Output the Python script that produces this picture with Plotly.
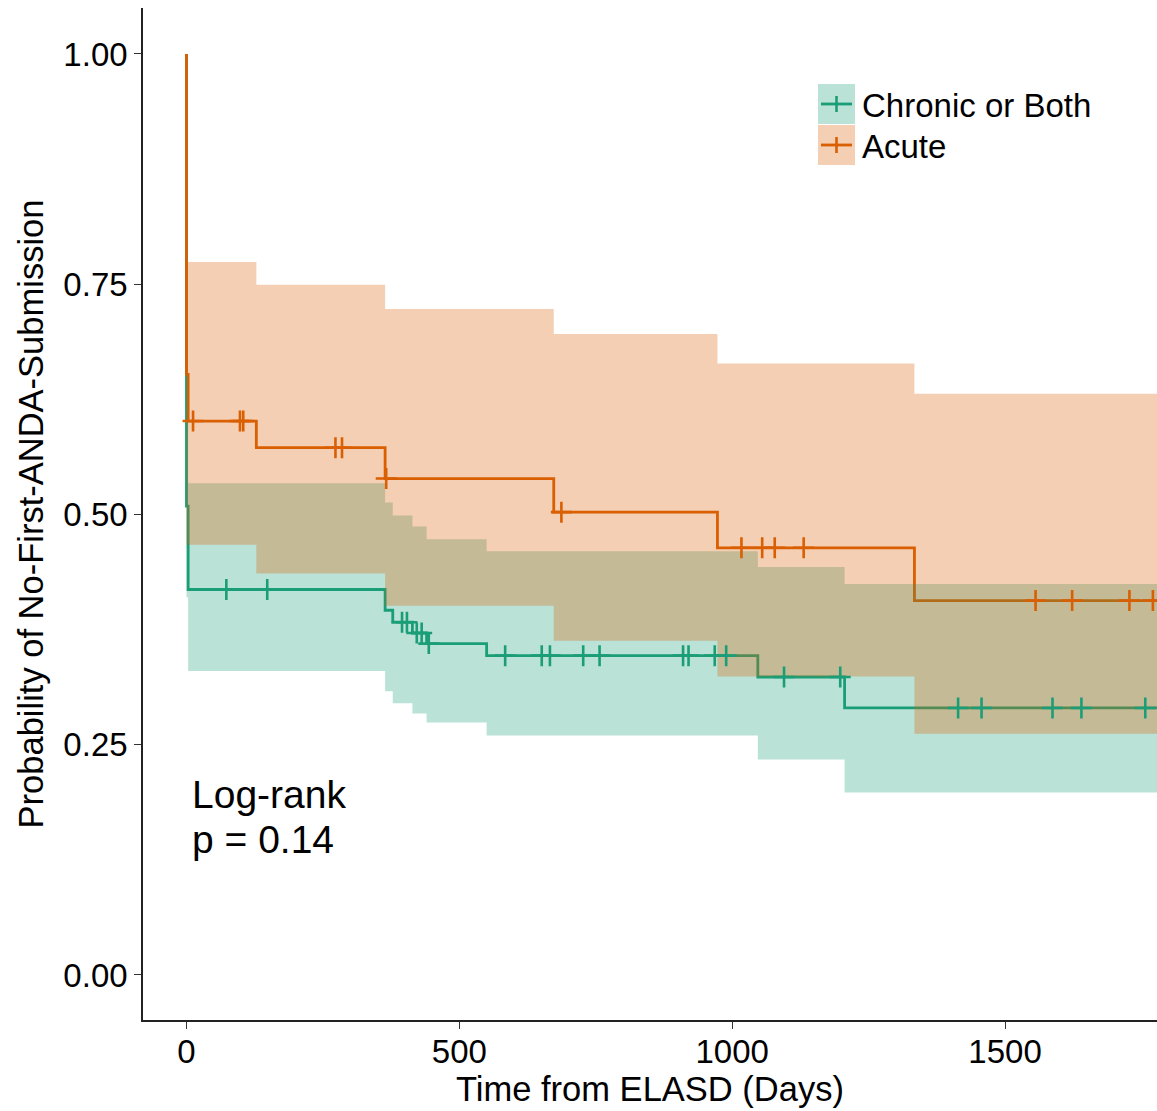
import plotly.graph_objects as go

# ---------------- data ----------------
series_names = ["Chronic or Both", "Acute"]

# Kaplan-Meier step estimates (time in days, survival probability)
chronic_time = [0, 0, 3, 364, 378, 414, 440, 550, 1047, 1206, 1800]
chronic_surv = [1.0, 0.509, 0.4185, 0.396, 0.383, 0.3713, 0.3598, 0.3467, 0.3235, 0.2899, 0.2899]

acute_time = [0, 0, 3, 128, 364, 673, 973, 1334, 1800]
acute_surv = [1.0, 0.652, 0.6014, 0.5725, 0.539, 0.5025, 0.4638, 0.4065, 0.4065]

# confidence bands
chronic_band_time = [0, 3, 364, 378, 414, 440, 550, 1047, 1206, 1800]
chronic_upper = [0.652, 0.534, 0.513, 0.499, 0.487, 0.473, 0.460, 0.443, 0.4245, 0.4245]
chronic_lower = [0.41, 0.330, 0.308, 0.295, 0.284, 0.274, 0.260, 0.234, 0.198, 0.198]

acute_band_time = [0, 3, 128, 364, 673, 973, 1334, 1800]
acute_upper = [0.774, 0.774, 0.7495, 0.723, 0.696, 0.664, 0.631, 0.631]
acute_lower = [0.467, 0.467, 0.436, 0.401, 0.363, 0.324, 0.262, 0.262]

# censoring times
chronic_censor = [73, 148, 395, 404, 422, 431, 444, 584, 651, 666, 727, 757,
                  910, 920, 968, 989, 1095, 1198, 1414, 1457, 1587, 1640, 1757]
acute_censor = [12, 98, 104, 273, 285, 366, 687, 1017, 1055, 1078, 1131,
                1556, 1623, 1728, 1771]

x_ticks = [0, 500, 1000, 1500]
y_ticks = [0, 0.25, 0.5, 0.75, 1.0]
y_tick_text = ["0.00", "0.25", "0.50", "0.75", "1.00"]

annotation_lines = ["Log-rank", "p = 0.14"]

GREEN = "#1B9E77"
ORANGE = "#D95F02"
GREEN_FILL = "rgba(27,158,119,0.3)"
ORANGE_FILL = "rgba(217,95,2,0.3)"
FONT = "Liberation Sans, Arial, sans-serif"


def step_value(times, values, t):
    v = values[0]
    for ti, vi in zip(times, values):
        if ti <= t:
            v = vi
    return v


fig = go.Figure()

# survival curves (drawn first, bands overlay them like ggplot)
fig.add_trace(go.Scatter(x=chronic_time, y=chronic_surv, mode="lines",
                         line=dict(color=GREEN, width=2.8, shape="hv"),
                         showlegend=False, hoverinfo="skip"))
fig.add_trace(go.Scatter(x=acute_time, y=acute_surv, mode="lines",
                         line=dict(color=ORANGE, width=2.8, shape="hv"),
                         showlegend=False, hoverinfo="skip"))

# confidence bands
fig.add_trace(go.Scatter(x=chronic_band_time, y=chronic_lower, mode="lines",
                         line=dict(width=0, shape="hv"), showlegend=False,
                         hoverinfo="skip"))
fig.add_trace(go.Scatter(x=chronic_band_time, y=chronic_upper, mode="lines",
                         line=dict(width=0, shape="hv"), fill="tonexty",
                         fillcolor=GREEN_FILL, showlegend=False, hoverinfo="skip"))
fig.add_trace(go.Scatter(x=acute_band_time, y=acute_lower, mode="lines",
                         line=dict(width=0, shape="hv"), showlegend=False,
                         hoverinfo="skip"))
fig.add_trace(go.Scatter(x=acute_band_time, y=acute_upper, mode="lines",
                         line=dict(width=0, shape="hv"), fill="tonexty",
                         fillcolor=ORANGE_FILL, showlegend=False, hoverinfo="skip"))

# censor marks
fig.add_trace(go.Scatter(
    x=chronic_censor,
    y=[step_value(chronic_time, chronic_surv, t) for t in chronic_censor],
    mode="markers",
    marker=dict(symbol="cross-thin", size=15, color=GREEN,
                line=dict(color=GREEN, width=2.6)),
    showlegend=False, hoverinfo="skip"))
fig.add_trace(go.Scatter(
    x=acute_censor,
    y=[step_value(acute_time, acute_surv, t) for t in acute_censor],
    mode="markers",
    marker=dict(symbol="cross-thin", size=15, color=ORANGE,
                line=dict(color=ORANGE, width=2.6)),
    showlegend=False, hoverinfo="skip"))

# ---------------- layout ----------------
W, H = 1157, 1111
ML, MR, MT, MB = 143, 0, 8, 91
PW, PH = W - ML - MR, H - MT - MB


def px_x(px):
    return (px - ML) / PW


def px_y(py):
    return 1 - (py - MT) / PH


shapes = []
annotations = []
legend_colors = [(GREEN, GREEN_FILL), (ORANGE, ORANGE_FILL)]
for i, (name, (lc, fc)) in enumerate(zip(series_names, legend_colors)):
    top = 84 + i * 41
    bot = top + 40
    cy = (top + bot) / 2
    shapes.append(dict(type="rect", xref="paper", yref="paper",
                       x0=px_x(818), x1=px_x(855), y0=px_y(bot), y1=px_y(top),
                       fillcolor=fc, line=dict(width=0), layer="below"))
    shapes.append(dict(type="line", xref="paper", yref="paper",
                       x0=px_x(821), x1=px_x(852), y0=px_y(cy), y1=px_y(cy),
                       line=dict(color=lc, width=2.8)))
    shapes.append(dict(type="line", xref="paper", yref="paper",
                       x0=px_x(836.5), x1=px_x(836.5), y0=px_y(cy - 8), y1=px_y(cy + 8),
                       line=dict(color=lc, width=2.6)))
    annotations.append(dict(text=name, xref="paper", yref="paper",
                            x=px_x(860), y=px_y(cy + 1), xanchor="left", yanchor="middle",
                            showarrow=False, font=dict(family=FONT, size=33, color="black")))

for j, line_text in enumerate(annotation_lines):
    annotations.append(dict(text=line_text, xref="paper", yref="paper",
                            x=px_x(190), y=px_y(794 + 45 * j), xanchor="left",
                            yanchor="middle", align="left", showarrow=False,
                            font=dict(family=FONT, size=39, color="black")))

fig.update_layout(
    width=W, height=H,
    margin=dict(l=ML, r=MR, t=MT, b=MB, pad=0),
    paper_bgcolor="white", plot_bgcolor="white",
    font=dict(family=FONT, color="black"),
    shapes=shapes, annotations=annotations,
    showlegend=False,
    xaxis=dict(range=[-79.7, 1778.5], tickvals=x_ticks, showgrid=False, zeroline=False,
               showline=True, linecolor="#222222", linewidth=1.6,
               ticks="outside", ticklen=7, tickwidth=1.3, tickcolor="#333333",
               ticklabelstandoff=-5,
               tickfont=dict(family=FONT, size=33, color="black"),
               title=dict(text="Time from ELASD (Days)", standoff=7,
                          font=dict(family=FONT, size=34.5, color="black"))),
    yaxis=dict(range=[-0.0489, 1.0499], tickvals=y_ticks, ticktext=y_tick_text,
               showgrid=False, zeroline=False,
               showline=True, linecolor="#222222", linewidth=1.6,
               ticks="outside", ticklen=7, tickwidth=1.3, tickcolor="#333333",
               tickfont=dict(family=FONT, size=33, color="black"),
               title=dict(text="Probability of No-First-ANDA-Submission", standoff=9,
                          font=dict(family=FONT, size=34.5, color="black"))),
)

fig.write_html("out.html")
